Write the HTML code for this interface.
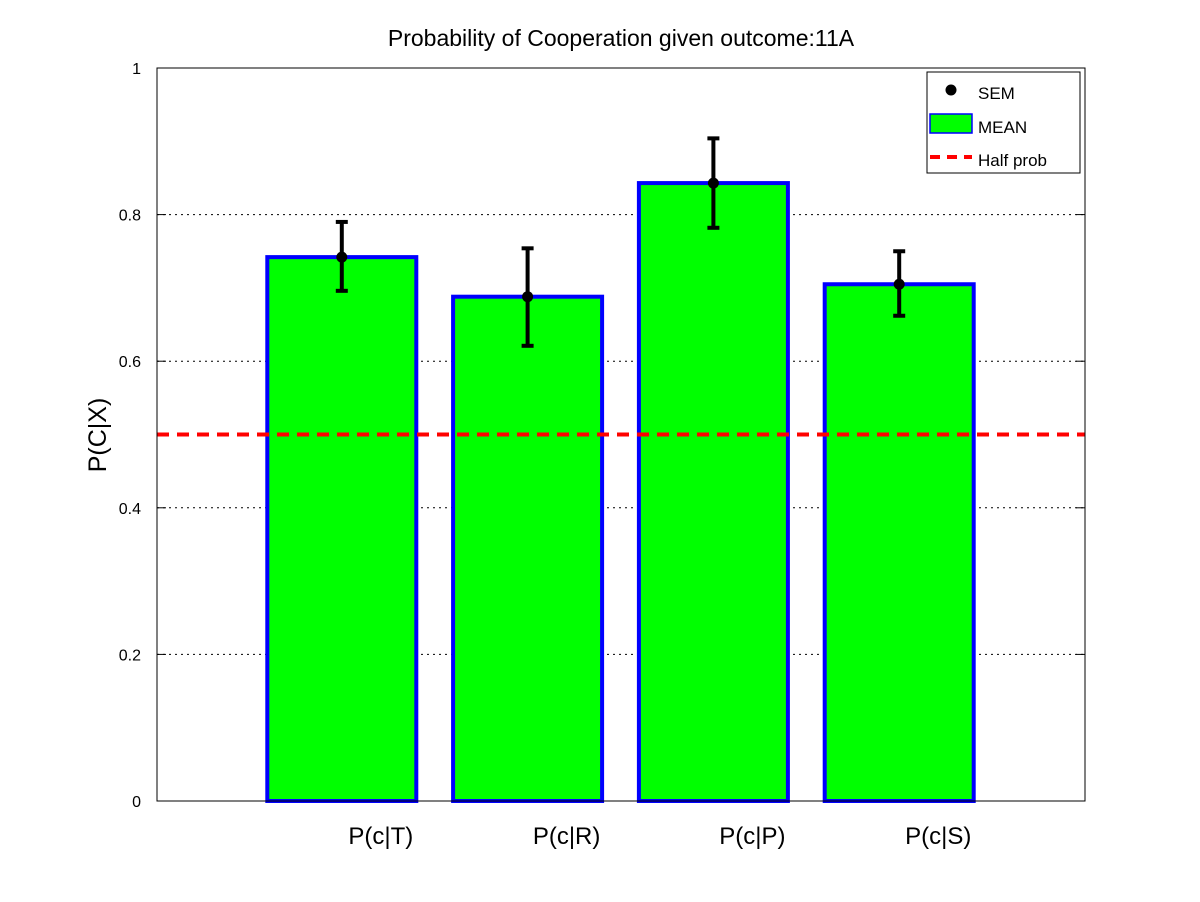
<!DOCTYPE html>
<html><head><meta charset="utf-8"><style>
html,body{margin:0;padding:0;background:#fff;}
svg{display:block;font-family:"Liberation Sans",sans-serif;}
</style></head><body>
<svg id="chart" width="1200" height="902" viewBox="0 0 1200 902" xmlns="http://www.w3.org/2000/svg">
<rect width="1200" height="902" fill="#fff"/>
<text x="621" y="46" font-size="23" text-anchor="middle">Probability of Cooperation given outcome:11A</text>
<text transform="translate(106,435) rotate(-90)" font-size="25" text-anchor="middle">P(C|X)</text>
<g id="grid"></g>
<g id="bars"></g>
<g id="errs"></g>
<line id="half" stroke="#ff0000" stroke-width="4" stroke-dasharray="12,8"/>
<rect x="157" y="68" width="928" height="733" fill="none" stroke="#000" stroke-width="1"/>
<g id="ticks"></g>
<g>
<rect x="927" y="72" width="153" height="101" fill="#fff" stroke="#000" stroke-width="1"/>
<circle cx="951" cy="90" r="5.5" fill="#000"/>
<text x="978" y="99" font-size="17">SEM</text>
<rect x="930" y="114" width="42" height="19" fill="#00ff00" stroke="#0000ff" stroke-width="1.5"/>
<text x="978" y="133" font-size="17">MEAN</text>
<line x1="930" y1="157" x2="972" y2="157" stroke="#ff0000" stroke-width="4" stroke-dasharray="10,7"/>
<text x="978" y="166" font-size="17">Half prob</text>
</g>
</svg>
<script>
const categories=["P(c|T)","P(c|R)","P(c|P)","P(c|S)"];
const means=[0.742,0.688,0.843,0.705];
const semUpper=[0.790,0.754,0.904,0.750];
const semLower=[0.696,0.621,0.782,0.662];
const yTicks=[0,0.2,0.4,0.6,0.8,1];
const yTickLabels=["0","0.2","0.4","0.6","0.8","1"];
const halfProb=0.5;
const NS="http://www.w3.org/2000/svg";
const L=157,R=1085,T=68,B=801;
const y=v=>B-(B-T)*v;
const x=v=>156+v*185.8;
const bw=149;
function mk(tag,attrs,parent){const e=document.createElementNS(NS,tag);for(const k in attrs)e.setAttribute(k,attrs[k]);document.getElementById(parent).appendChild(e);return e;}
yTicks.forEach((t,i)=>{
  if(t>0&&t<1){const g=mk('line',{x1:L,x2:R,y1:y(t),y2:y(t),stroke:'#000','stroke-width':1,'stroke-dasharray':'2,4'},'grid');
  
  }
  const tk=mk('text',{x:L-16,y:y(t)+6,'font-size':16,'text-anchor':'end'},'ticks');tk.textContent=yTickLabels[i];
  
  
  [[L,L+9],[R-9,R]].forEach(p=>{const m=mk('line',{x1:p[0],x2:p[1],y1:y(t),y2:y(t),stroke:'#000'},'ticks');
  
  });
});
categories.forEach((c,i)=>{
  const cx=x(i+1);
  const b=mk('rect',{x:cx-bw/2,y:y(means[i]),width:bw,height:B-y(means[i]),fill:'#00ff00',stroke:'#0000ff','stroke-width':4},'bars');
  
  
  const eg=mk('g',{},'errs');
  
  
  const yu=y(semUpper[i]),yl=y(semLower[i]);
  [[cx,yu,cx,yl],[cx-6,yu,cx+6,yu],[cx-6,yl,cx+6,yl]].forEach(p=>{const l=document.createElementNS(NS,'line');l.setAttribute('x1',p[0]);l.setAttribute('y1',p[1]);l.setAttribute('x2',p[2]);l.setAttribute('y2',p[3]);l.setAttribute('stroke','#000');l.setAttribute('stroke-width',4);eg.appendChild(l);});
  const d=document.createElementNS(NS,'circle');d.setAttribute('cx',cx);d.setAttribute('cy',y(means[i]));d.setAttribute('r',5.5);d.setAttribute('fill','#000');eg.appendChild(d);
  const lb=mk('text',{x:cx+39,y:844,'font-size':24,'text-anchor':'middle'},'ticks');lb.textContent=c;
  
  
});
const h=document.getElementById('half');
h.setAttribute('x1',L);h.setAttribute('x2',R);h.setAttribute('y1',y(halfProb));h.setAttribute('y2',y(halfProb));
</script>
</body></html>
